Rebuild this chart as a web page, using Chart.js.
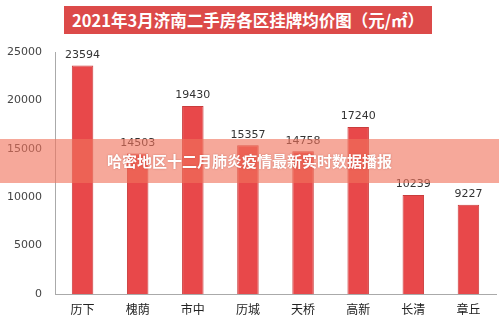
<!DOCTYPE html>
<html>
<head>
<meta charset="utf-8">
<script src="https://cdn.jsdelivr.net/npm/chart.js@4"></script>
<style>
  body { margin: 0; background: #fff; }
  #wrap { position: relative; width: 499px; height: 323px; overflow: hidden; }
  #title {
    position: absolute; left: 64px; top: 6px; width: 368px; height: 28px;
    background: #dc4a49; color: #fff; font: bold 16.5px "Noto Sans CJK SC", sans-serif;
    line-height: 28px; text-align: center; white-space: nowrap;
  }
  #banner {
    position: absolute; left: 0; top: 139px; width: 499px; height: 44px;
    background: rgba(240, 115, 92, 0.62); color: #fff;
    font: bold 15px "Noto Sans CJK SC", sans-serif; line-height: 44px;
    text-align: center; white-space: nowrap; text-shadow: 0 0 2px rgba(150, 40, 30, 0.4);
  }
</style>
</head>
<body>
<div id="wrap">
  <canvas id="chart" width="499" height="323"></canvas>
  <div id="title">2021年3月济南二手房各区挂牌均价图（元/㎡）</div>
  <div id="banner">哈密地区十二月肺炎疫情最新实时数据播报</div>
</div>
<script>
// districts and average listing price
const districts = ['历下', '槐荫', '市中', '历城', '天桥', '高新', '长清', '章丘'];
const prices = [23594, 14503, 19430, 15357, 14758, 17240, 10239, 9227];
const yTicks = [0, 5000, 10000, 15000, 20000, 25000];

// draw the value above each bar
const valueLabels = {
    id: 'valueLabels',
    afterDatasetsDraw(chart) {
        const ctx = chart.ctx;
        const meta = chart.getDatasetMeta(0);
        ctx.save();
        ctx.font = '11px "DejaVu Sans", sans-serif';
        ctx.fillStyle = '#333';
        ctx.textAlign = 'center';
        ctx.textBaseline = 'bottom';
        meta.data.forEach((bar, i) => {
            ctx.fillText(prices[i], bar.x, bar.y - 5);
        });
        ctx.restore();
    }
};

const ctx = document.getElementById('chart').getContext('2d');
new Chart(ctx, {
    type: 'bar',
    data: {
        labels: districts,
        datasets: [{
            data: prices,
            backgroundColor: '#e8484a',
            borderColor: '#c93c3c',
            borderWidth: 1,
            categoryPercentage: 1,
            barPercentage: 0.39
        }]
    },
    options: {
        responsive: false,
        animation: false,
        layout: { padding: { top: 52, right: 3, left: 0, bottom: 0 } },
        plugins: {
            legend: { display: false },
            tooltip: { enabled: false }
        },
        scales: {
            x: {
                grid: { display: false, drawTicks: false },
                border: { color: '#aaa', width: 1 },
                ticks: {
                    color: '#222',
                    padding: 8,
                    font: { size: 12, family: '"Noto Sans CJK SC", sans-serif' }
                },
                afterFit(scale) { scale.height = 29; }
            },
            y: {
                min: 0,
                max: 25000,
                afterBuildTicks(scale) { scale.ticks = yTicks.map(v => ({ value: v })); },
                grid: { display: false, drawTicks: false },
                border: { color: '#aaa', width: 1 },
                ticks: {
                    color: '#444',
                    padding: 13,
                    font: { size: 11, family: '"DejaVu Sans", sans-serif' },
                    callback: (v) => String(v)
                },
                afterFit(scale) { scale.width = 55; }
            }
        }
    },
    plugins: [valueLabels]
});
</script>
</body>
</html>
